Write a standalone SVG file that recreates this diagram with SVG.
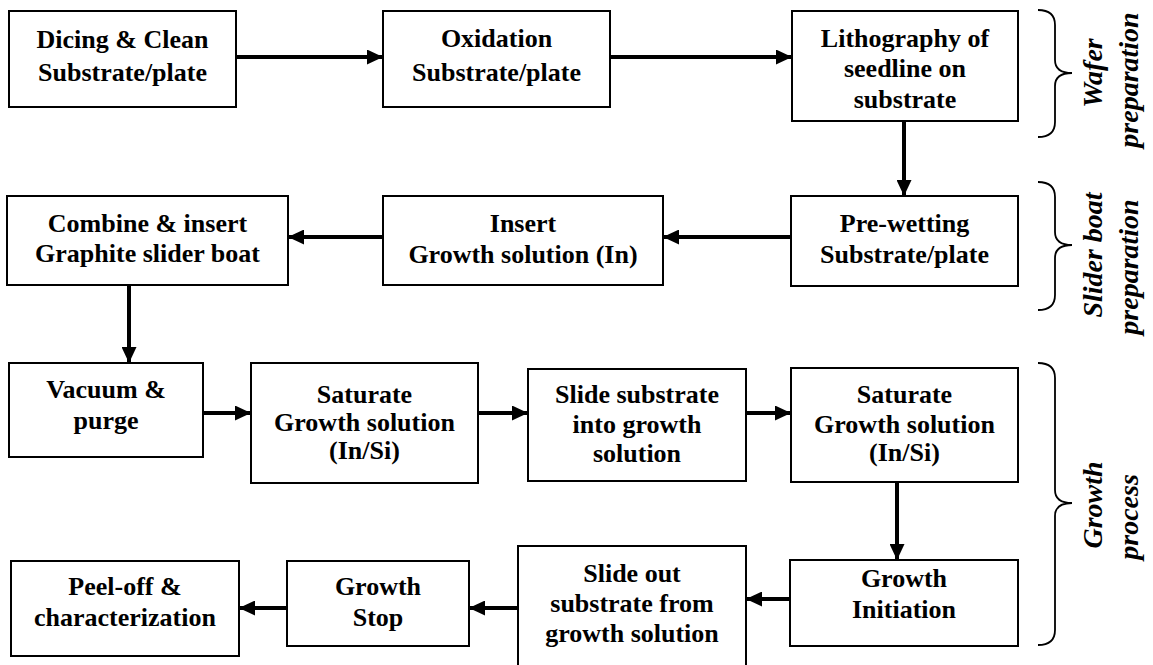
<svg xmlns="http://www.w3.org/2000/svg" width="1153" height="665" viewBox="0 0 1153 665" font-family="Liberation Serif, DejaVu Serif, serif">
<style>
.box{fill:#fff;stroke:#000;stroke-width:2}
.t{font-weight:700;font-size:26px;text-anchor:middle;fill:#000}
.c{stroke:#000;stroke-width:4;fill:none}
.br{stroke:#000;stroke-width:1.8;fill:none}
.lab{font-weight:700;font-style:italic;font-size:28px;text-anchor:middle;fill:#000}
</style>
<defs>
<marker id="ah" markerUnits="userSpaceOnUse" markerWidth="16" markerHeight="15" refX="16" refY="7.5" orient="auto">
<path d="M0,0 L16,7.5 L0,15 z" fill="#000"/>
</marker>
</defs>
<rect width="1153" height="665" fill="#fff"/>
<g id="connectors">
<line class="c" x1="236" y1="57" x2="383" y2="57" marker-end="url(#ah)"/>
<line class="c" x1="610" y1="57" x2="792" y2="57" marker-end="url(#ah)"/>
<line class="c" x1="904" y1="121" x2="904" y2="196" marker-end="url(#ah)"/>
<line class="c" x1="791" y1="237" x2="663" y2="237" marker-end="url(#ah)"/>
<line class="c" x1="383" y1="237" x2="288" y2="237" marker-end="url(#ah)"/>
<line class="c" x1="129" y1="285" x2="129" y2="363" marker-end="url(#ah)"/>
<line class="c" x1="203" y1="413" x2="251" y2="413" marker-end="url(#ah)"/>
<line class="c" x1="478" y1="413" x2="528" y2="413" marker-end="url(#ah)"/>
<line class="c" x1="746" y1="413" x2="791" y2="413" marker-end="url(#ah)"/>
<line class="c" x1="897" y1="482" x2="897" y2="560" marker-end="url(#ah)"/>
<line class="c" x1="790" y1="599" x2="746" y2="599" marker-end="url(#ah)"/>
<line class="c" x1="518" y1="608" x2="469" y2="608" marker-end="url(#ah)"/>
<line class="c" x1="287" y1="608" x2="239" y2="608" marker-end="url(#ah)"/>
</g>
<g id="n1"><rect class="box" x="9" y="11" width="227" height="96"/>
<text class="t" x="122.5" y="48">Dicing &amp; Clean</text><text class="t" x="122.5" y="81">Substrate/plate</text></g>
<g id="n2"><rect class="box" x="383" y="11" width="227" height="96"/>
<text class="t" x="496.5" y="47">Oxidation</text><text class="t" x="496.5" y="81">Substrate/plate</text></g>
<g id="n3"><rect class="box" x="792" y="11" width="226" height="110"/>
<text class="t" x="905" y="47">Lithography of</text><text class="t" x="905" y="77">seedline on</text><text class="t" x="905" y="108">substrate</text></g>
<g id="n4"><rect class="box" x="791" y="196" width="227" height="90"/>
<text class="t" x="904.5" y="232">Pre-wetting</text><text class="t" x="904.5" y="263">Substrate/plate</text></g>
<g id="n5"><rect class="box" x="383" y="196" width="280" height="89"/>
<text class="t" x="523" y="232">Insert</text><text class="t" x="523" y="263">Growth solution (In)</text></g>
<g id="n6"><rect class="box" x="7" y="196" width="281" height="89"/>
<text class="t" x="147.5" y="232">Combine &amp; insert</text><text class="t" x="147.5" y="262">Graphite slider boat</text></g>
<g id="n7"><rect class="box" x="9" y="363" width="194" height="94"/>
<text class="t" x="106" y="398">Vacuum &amp;</text><text class="t" x="106" y="429">purge</text></g>
<g id="n8"><rect class="box" x="251" y="363" width="227" height="120"/>
<text class="t" x="364.5" y="403">Saturate</text><text class="t" x="364.5" y="431">Growth solution</text><text class="t" x="364.5" y="459">(In/Si)</text></g>
<g id="n9"><rect class="box" x="528" y="369" width="218" height="112"/>
<text class="t" x="637" y="403">Slide substrate</text><text class="t" x="637" y="433">into growth</text><text class="t" x="637" y="462">solution</text></g>
<g id="n10"><rect class="box" x="791" y="368" width="227" height="114"/>
<text class="t" x="904.5" y="403">Saturate</text><text class="t" x="904.5" y="433">Growth solution</text><text class="t" x="904.5" y="461">(In/Si)</text></g>
<g id="n11"><rect class="box" x="790" y="560" width="228" height="86"/>
<text class="t" x="904" y="587">Growth</text><text class="t" x="904" y="618">Initiation</text></g>
<g id="n12"><rect class="box" x="518" y="546" width="228" height="125"/>
<text class="t" x="632" y="582">Slide out</text><text class="t" x="632" y="612">substrate from</text><text class="t" x="632" y="642">growth solution</text></g>
<g id="n13"><rect class="box" x="287" y="561" width="182" height="85"/>
<text class="t" x="378" y="595">Growth</text><text class="t" x="378" y="626">Stop</text></g>
<g id="n14"><rect class="box" x="11" y="561" width="228" height="95"/>
<text class="t" x="125" y="595">Peel-off &amp;</text><text class="t" x="125" y="626">characterization</text></g>
<g id="wafer">
<path class="br" d="M1038,10 Q1055,10 1055,25 L1055,60 Q1055,73 1072,73 Q1055,73 1055,86 L1055,122 Q1055,137 1038,137"/>
<text class="lab" transform="translate(1102,73) rotate(-90)">Wafer</text>
<text class="lab" transform="translate(1138,80) rotate(-90)">preparation</text>
</g>
<g id="slider">
<path class="br" d="M1038,182 Q1055,182 1055,197 L1055,232 Q1055,245 1072,245 Q1055,245 1055,258 L1055,295 Q1055,310 1038,310"/>
<text class="lab" transform="translate(1102,255) rotate(-90)">Slider boat</text>
<text class="lab" transform="translate(1138,267) rotate(-90)">preparation</text>
</g>
<g id="growth">
<path class="br" d="M1038,363 Q1055,363 1055,378 L1055,490 Q1055,503 1072,503 Q1055,503 1055,516 L1055,630 Q1055,645 1038,645"/>
<text class="lab" transform="translate(1102,505) rotate(-90)">Growth</text>
<text class="lab" transform="translate(1138,517) rotate(-90)">process</text>
</g>
</svg>
